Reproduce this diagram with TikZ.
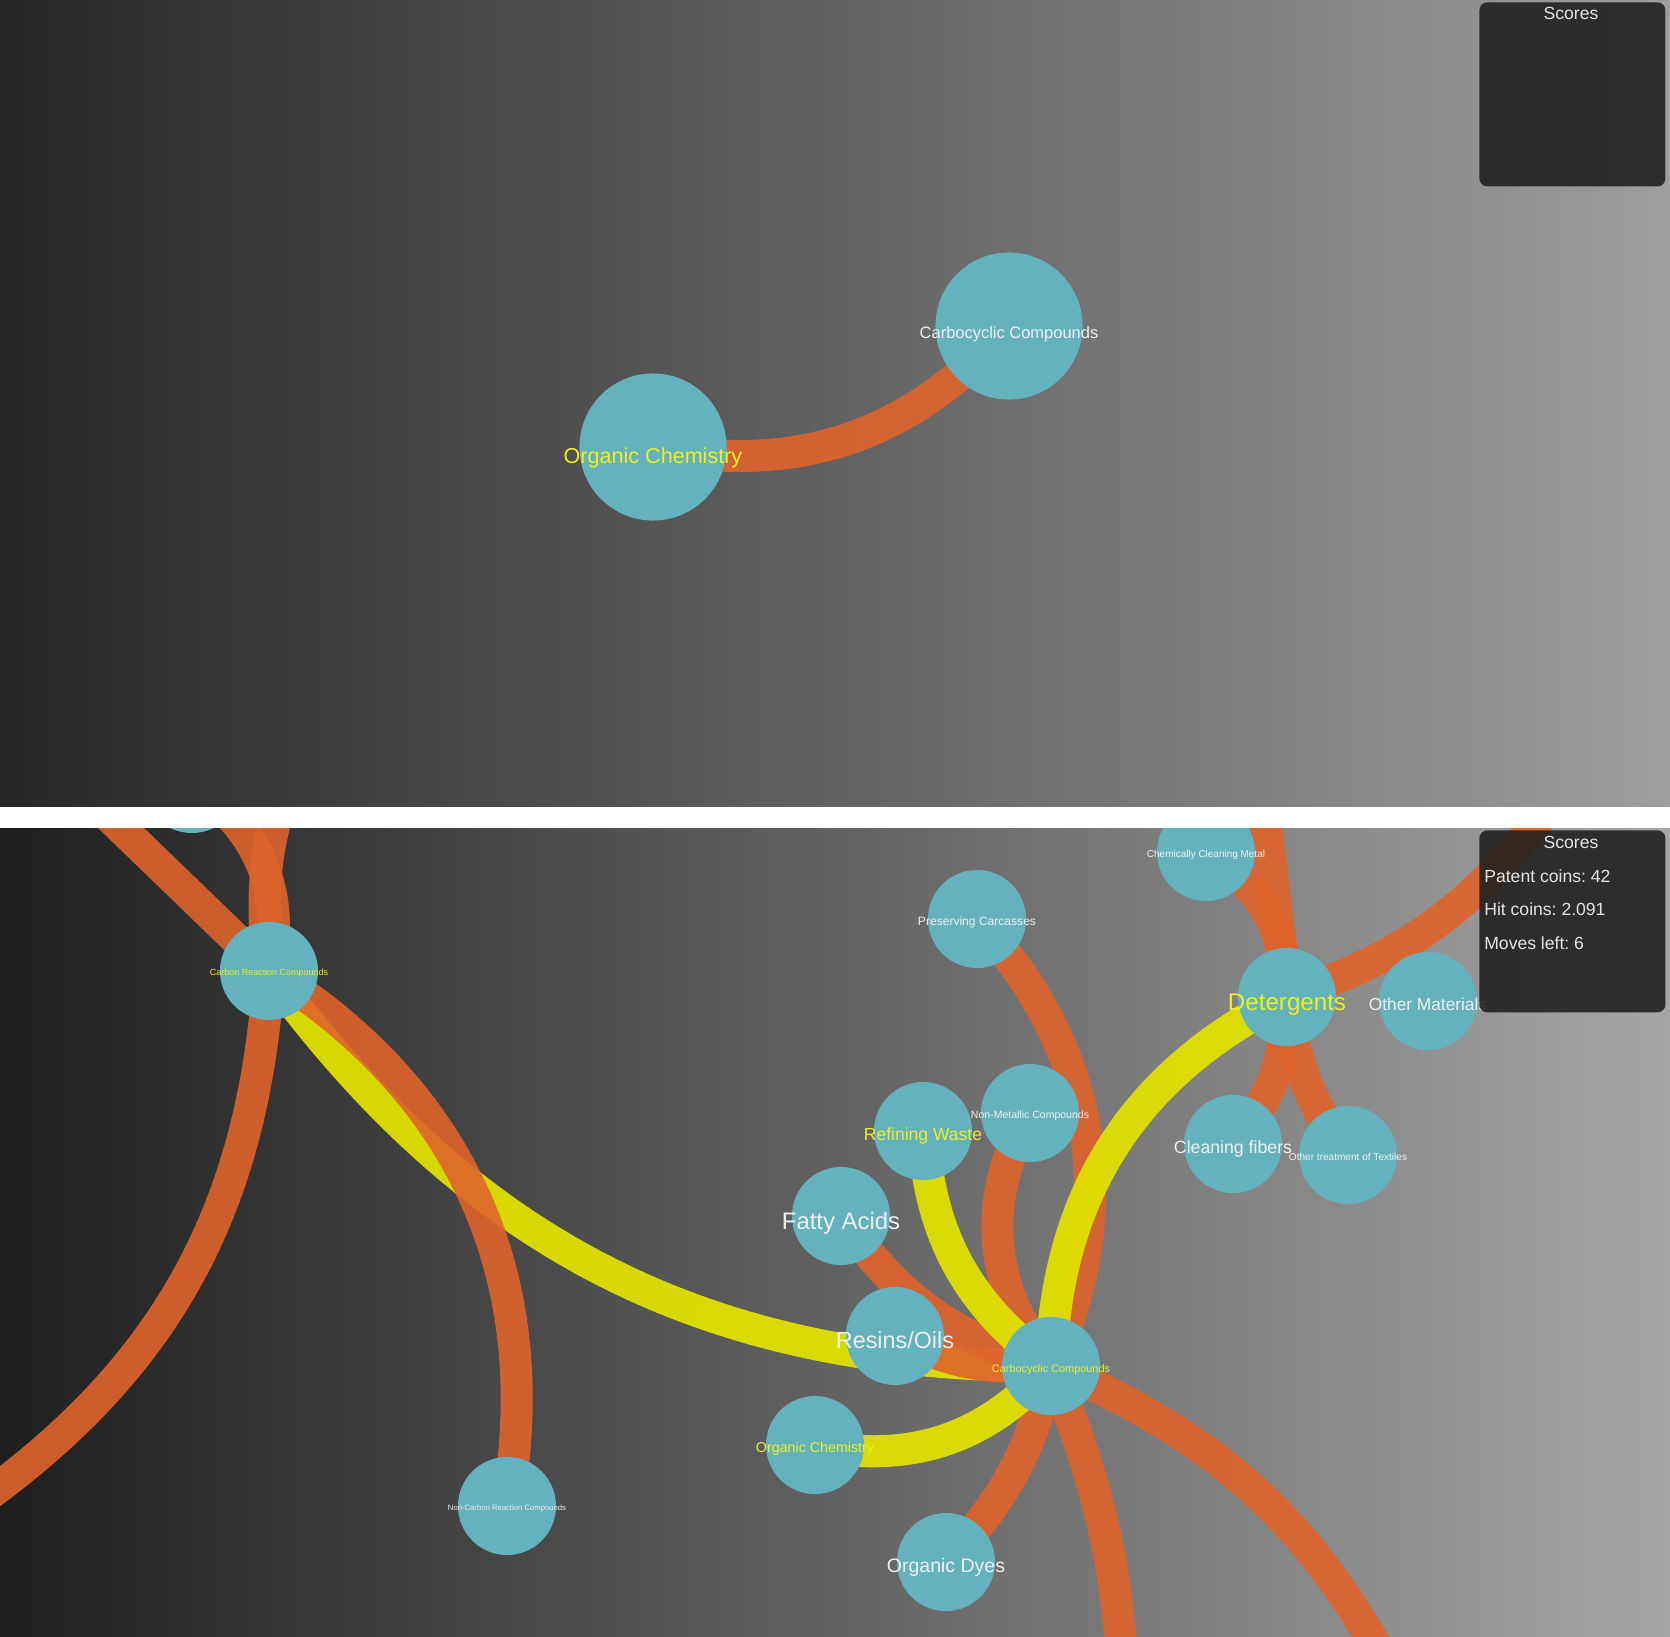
\documentclass[tikz,border=0pt]{standalone}
\usepackage{fontspec}
\setmainfont{Liberation Sans}
\usetikzlibrary{backgrounds}
\definecolor{topicteal}{HTML}{64B2BE}
\definecolor{linkorange}{HTML}{DF642C}
\definecolor{linkyellow}{HTML}{E0E000}
\definecolor{pickyellow}{HTML}{EEEE22}
\definecolor{labelwhite}{HTML}{EFEFEF}
\definecolor{panelbox}{HTML}{1E1E1E}
\tikzset{every picture/.style={line width=0.75pt}}
\newcommand{\lbl}[1]{\makebox[0pt]{\resizebox{1.18cm}{!}{\raisebox{-0.55em}[0pt][0pt]{#1}}}}
\newcommand{\biglbl}[1]{\makebox[0pt]{\resizebox{1.785cm}{!}{\raisebox{-0.75em}[0pt][0pt]{#1}}}}

\begin{document}
\frenchspacing
\begin{tikzpicture}[x=0.01cm, y=0.01cm,
    topic/.style={circle, fill=topicteal, minimum size=0.98cm, inner sep=0pt, text=labelwhite},
    bigtopic/.style={topic, minimum size=1.47cm},
    picked/.style={text=pickyellow},
    link/.style={draw=linkorange, line width=0.32cm, opacity=0.9},
    chosen/.style={draw=linkyellow, line width=0.32cm, opacity=0.95},
    scorebox/.style={fill=panelbox, fill opacity=0.88, rounded corners=0.08cm},
    scoretext/.style={text=labelwhite!90!gray, font=\fontsize{5}{6}\selectfont, inner sep=0pt}]
  \useasboundingbox (0,0) rectangle (1670,-1637);

  % first screen: one link
  \node[bigtopic, picked] (org) at (653,-447) {\biglbl{Organic Chemistry}};
  \node[bigtopic] (carb) at (1009,-326) {\biglbl{Carbocyclic Compounds}};
  \begin{scope}[on background layer]
    \fill[white] (0,0) rectangle (1670,-1637);
    \shade[left color=black!85, middle color=black!58, right color=black!38] (0,0) rectangle (1670,-806);
    \draw[link] (org.center) to[bend right=30] (carb.center);
  \end{scope}
  \node[scorebox, minimum width=1.86cm, minimum height=1.84cm, anchor=north west] (board) at (1478,-1) {};
  \node[scoretext, anchor=north] (boardtitle) at (1571,-6) {Scores};

  % second screen: after some moves
  \begin{scope}
    \clip (0,-828) rectangle (1670,-1637);
    \node[topic] (upper) at (192,-784) {};
    \node[topic, picked] (crc) at (269,-971) {\lbl{Carbon Reaction Compounds}};
    \node[topic] (ncrc) at (507,-1506) {\lbl{Non-Carbon Reaction Compounds}};
    \node[topic] (pres) at (977,-919) {\lbl{Preserving Carcasses}};
    \node[topic] (metal) at (1206,-852) {\lbl{Chemically Cleaning Metal}};
    \node[topic, picked] (deterg) at (1287,-997) {\lbl{Detergents}};
    \node[topic] (othmat) at (1428,-1001) {\lbl{Other Materials}};
    \node[topic] (nonmet) at (1030,-1113) {\lbl{Non-Metallic Compounds}};
    \node[topic, picked] (refwaste) at (923,-1131) {\lbl{Refining Waste}};
    \node[topic] (fatty) at (841,-1216) {\lbl{Fatty Acids}};
    \node[topic] (textiles) at (1348,-1155) {\lbl{Other treatment of Textiles}};
    \node[topic] (fibers) at (1233,-1144) {\lbl{Cleaning fibers}};
    \node[topic] (resins) at (895,-1336) {\lbl{Resins/Oils}};
    \node[topic, picked] (cc) at (1051,-1366) {\lbl{Carbocyclic Compounds}};
    \node[topic, picked] (orgb) at (815,-1445) {\lbl{Organic Chemistry}};
    \node[topic] (dyes) at (946,-1562) {\lbl{Organic Dyes}};
    \coordinate (offtl) at (30,-740);
    \coordinate (offtop) at (300,-750);
    \coordinate (offbl) at (-40,-1515);
    \coordinate (offb) at (1125,-1720);
    \coordinate (offbr) at (1405,-1700);
    \coordinate (offdt) at (1258,-760);
    \coordinate (offtr) at (1560,-790);
    \begin{scope}[on background layer]
      \clip (0,-828) rectangle (1670,-1637);
      \shade[left color=black!88, middle color=black!60, right color=black!35] (0,-828) rectangle (1670,-1637);
      \draw[chosen] (crc.center) to[bend right=27] (cc.center);
      \draw[link] (offtl) -- (crc.center);
      \draw[link] (upper.center) to[bend left=35] (crc.center);
      \draw[link] (offtop) to[bend right=15] (crc.center);
      \draw[link] (crc.center) to[bend left=26] (offbl);
      \draw[link] (crc.center) to[bend left=34] (ncrc.center);
      \draw[link] (pres.center) to[bend left=33] (cc.center);
      \draw[link] (nonmet.center) to[bend right=35] (cc.center);
      \draw[link] (fatty.center) to[bend right=20] (cc.center);
      \draw[link] (resins.center) to[bend right=15] (cc.center);
      \draw[link] (dyes.center) to[bend right=15] (cc.center);
      \draw[link] (cc.center) to[bend left=10] (offb);
      \draw[link] (cc.center) to[bend left=20] (offbr);
      \draw[link] (metal.center) to[bend left=30] (deterg.center);
      \draw[link] (offdt) -- (deterg.center);
      \draw[link] (deterg.center) to[bend right=18] (offtr);
      \draw[link] (deterg.center) to[bend left=20] (fibers.center);
      \draw[link] (deterg.center) to[bend right=15] (textiles.center);
      \draw[chosen] (refwaste.center) to[bend right=25] (cc.center);
      \draw[chosen] (orgb.center) to[bend right=30] (cc.center);
      \draw[chosen] (deterg.center) to[bend right=31] (cc.center);
    \end{scope}
  \end{scope}
  \node[scorebox, minimum width=1.86cm, minimum height=1.82cm, anchor=north west] (board2) at (1478,-829) {};
  \node[scoretext, anchor=north] (board2title) at (1571,-835) {Scores};
  \node[scoretext, anchor=west] (patent) at (1483,-876) {Patent coins: 42};
  \node[scoretext, anchor=west] (hits) at (1483,-909) {Hit coins: 2.091};
  \node[scoretext, anchor=west] (moves) at (1483,-943) {Moves left: 6};
\end{tikzpicture}
\end{document}
